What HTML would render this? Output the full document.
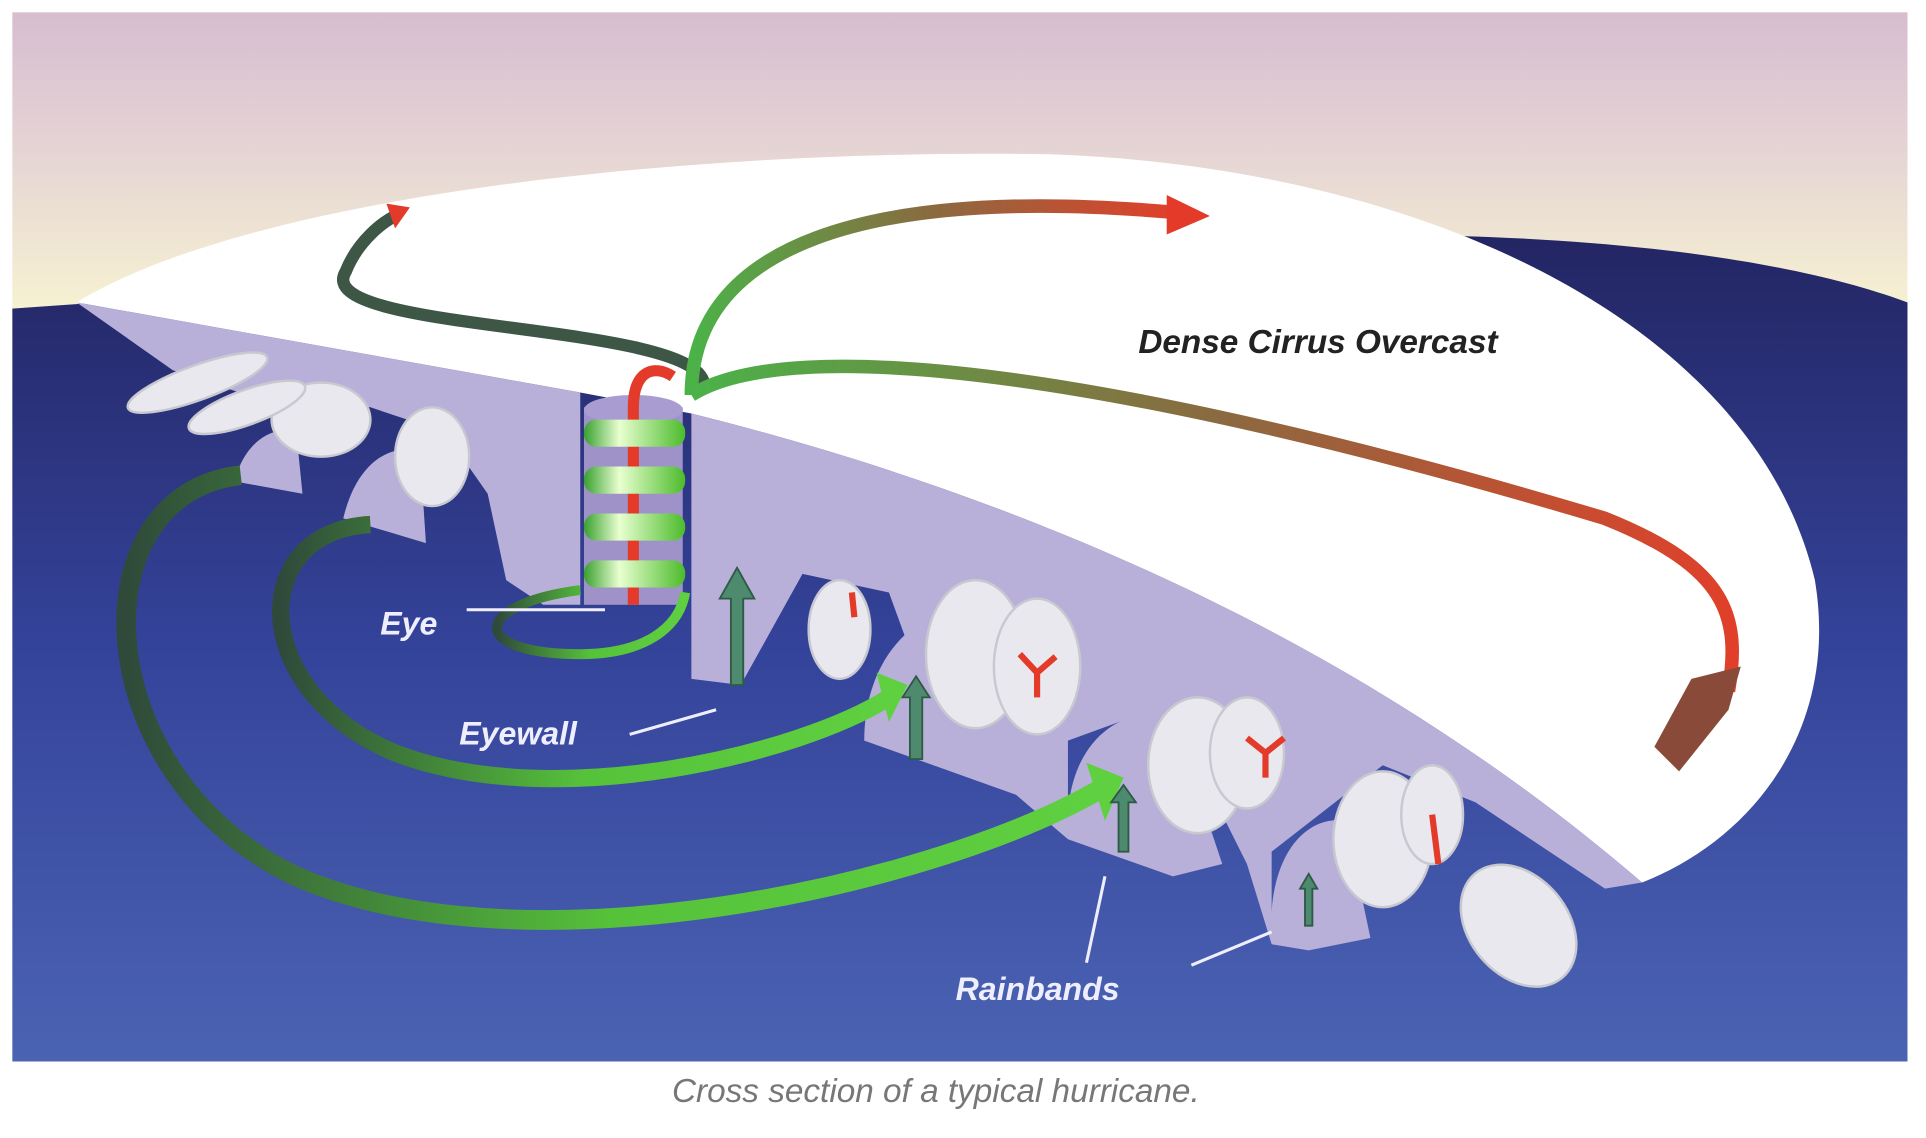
<!DOCTYPE html>
<html><head><style>html,body{margin:0;padding:0;background:#fff;overflow:hidden}svg{display:block}</style></head>
<body>
<svg width="1926" height="1138" viewBox="0 0 1560 922" preserveAspectRatio="none" xmlns="http://www.w3.org/2000/svg">
<defs>
<linearGradient id="sky" x1="0" y1="0" x2="0" y2="1"><stop offset="0" stop-color="#d6bdd0"/><stop offset="0.12" stop-color="#e4d2d4"/><stop offset="0.28" stop-color="#f6f1d2"/><stop offset="1" stop-color="#f6f1d2"/></linearGradient>
<linearGradient id="sea" x1="0" y1="0" x2="0" y2="1"><stop offset="0" stop-color="#232563"/><stop offset="0.5" stop-color="#34439a"/><stop offset="1" stop-color="#4b63b3"/></linearGradient>
<linearGradient id="g1" x1="0" y1="0" x2="1" y2="0"><stop offset="0" stop-color="#2f4a3a"/><stop offset="0.5" stop-color="#56c23a"/><stop offset="1" stop-color="#5fd040"/></linearGradient>
<linearGradient id="gr" x1="0" y1="0" x2="1" y2="0"><stop offset="0" stop-color="#4bb248"/><stop offset="0.5" stop-color="#8a6a40"/><stop offset="1" stop-color="#e0402a"/></linearGradient>
<linearGradient id="coil" x1="0" y1="0" x2="1" y2="0"><stop offset="0" stop-color="#3aa030"/><stop offset="0.35" stop-color="#e8ffd0"/><stop offset="1" stop-color="#4cbb2c"/></linearGradient>
</defs>
<rect x="10" y="10" width="1535" height="850" fill="url(#sky)"/>
<path d="M10,250 C300,230 700,200 1100,190 C1300,190 1450,210 1545,245 L1545,860 L10,860 Z" fill="url(#sea)"/>
<path d="M62,245 C200,160 550,120 850,125 C1150,135 1420,260 1470,470 C1490,590 1420,680 1330,715 C1150,560 900,420 560,335 L470,318 Z" fill="#fff"/>
<path d="M62,245 L470,318 L470,490 L440,490 L410,470 L395,400 L360,350 L300,330 L200,320 L140,300 Z" fill="#b8b0d8"/>
<path d="M560,335 C900,420 1150,560 1330,715 L1300,720 L1195,650 L1120,620 L1030,690 L1030,765 L1010,700 L960,600 L920,580 L865,600 L865,680 L760,590 L720,480 L650,465 L600,555 L560,550 Z" fill="#b8b0d8"/>
<path d="M700,600 C700,520 760,480 800,500 L840,650 L700,600 Z" fill="#b8b0d8"/>
<path d="M865,680 C860,600 910,570 950,580 L990,700 L950,710 Z" fill="#b8b0d8"/>
<path d="M1030,765 C1025,690 1060,660 1090,665 L1110,760 L1060,770 Z" fill="#b8b0d8"/>
<path d="M190,390 C200,350 230,345 240,350 L245,400 Z" fill="#b8b0d8"/>
<path d="M278,420 C290,370 320,360 340,365 L345,440 Z" fill="#b8b0d8"/>
<g fill="#e8e8ee" stroke="#c8c8d0" stroke-width="2">
<ellipse cx="790" cy="530" rx="40" ry="60"/><ellipse cx="840" cy="540" rx="35" ry="55"/>
<ellipse cx="970" cy="620" rx="40" ry="55"/><ellipse cx="1010" cy="610" rx="30" ry="45"/>
<ellipse cx="1120" cy="680" rx="40" ry="55"/><ellipse cx="1160" cy="660" rx="25" ry="40"/>
<ellipse cx="680" cy="510" rx="25" ry="40"/>
<ellipse cx="1230" cy="750" rx="40" ry="55" transform="rotate(-40 1230 750)"/>
<ellipse cx="350" cy="370" rx="30" ry="40"/><ellipse cx="260" cy="340" rx="40" ry="30"/>
<ellipse cx="160" cy="310" rx="60" ry="14" transform="rotate(-20 160 310)"/>
<ellipse cx="200" cy="330" rx="50" ry="14" transform="rotate(-20 200 330)"/>
</g>
<rect x="473" y="330" width="80" height="160" fill="#9e92c8"/>
<ellipse cx="513" cy="332" rx="40" ry="12" fill="#a89cd0"/>
<path d="M513,490 L513,330 C513,300 530,295 545,305" stroke="#e33a2a" stroke-width="9" fill="none"/>
<g fill="url(#coil)">
<rect x="473" y="340" width="82" height="22" rx="10"/><rect x="473" y="378" width="82" height="22" rx="10"/>
<rect x="473" y="416" width="82" height="22" rx="10"/><rect x="473" y="454" width="82" height="22" rx="10"/>
</g>
<path d="M570,310 C560,260 250,270 280,220 C290,195 310,180 320,175" stroke="#3e5646" stroke-width="10" fill="none"/>
<path d="M313,165 L332,168 L320,185 Z" fill="#e33a2a"/>
<path d="M560,320 C560,200 700,150 950,172" stroke="url(#gr)" stroke-width="11" fill="none"/>
<path d="M945,158 L980,175 L945,190 Z" fill="#e33a2a"/>
<path d="M560,320 C640,270 900,300 1300,420 C1400,460 1410,500 1400,560" stroke="url(#gr)" stroke-width="11" fill="none"/>
<path d="M1370,550 L1410,540 L1400,575 L1360,625 L1340,605 Z" fill="#8a4a3a"/>
<path d="M470,478 C380,490 380,530 470,530 C520,530 550,510 555,480" stroke="url(#g1)" stroke-width="8" fill="none"/>
<path d="M300,425 C200,430 200,560 320,610 C450,660 650,610 720,565" stroke="url(#g1)" stroke-width="14" fill="none"/>
<path d="M710,545 L735,555 L720,585 Z" fill="#5fd040"/>
<path d="M195,385 C60,400 70,630 240,710 C420,790 750,720 890,640" stroke="url(#g1)" stroke-width="16" fill="none"/>
<path d="M880,618 L910,630 L895,665 Z" fill="#5fd040"/>
<g fill="#4d8a6e" stroke="#2e5a46" stroke-width="1.5">
<path d="M592,555 L592,485 L583,485 L597,460 L611,485 L602,485 L602,555 Z"/>
<path d="M737,615 L737,565 L731,565 L742,548 L753,565 L747,565 L747,615 Z"/>
<path d="M906,690 L906,650 L900,650 L910,636 L920,650 L914,650 L914,690 Z"/>
<path d="M1057,750 L1057,720 L1053,720 L1060,708 L1067,720 L1063,720 L1063,750 Z"/>
</g>
<g stroke="#e33a2a" stroke-width="5" fill="none">
<path d="M690,480 L692,500 M840,545 L840,565 M826,530 L840,545 L855,532"/>
<path d="M1025,610 L1025,630 M1010,598 L1025,610 L1040,598"/>
<path d="M1160,660 L1165,700"/>
</g>
<g font-family="Liberation Sans, sans-serif" font-style="italic" font-weight="bold">
<text x="922" y="286" font-size="27" fill="#222">Dense Cirrus Overcast</text>
<text x="308" y="514" font-size="26" fill="#eef">Eye</text>
<text x="372" y="603" font-size="26" fill="#eef">Eyewall</text>
<text x="774" y="810" font-size="26" fill="#eef">Rainbands</text>
</g>
<g stroke="#eef" stroke-width="2.5">
<line x1="378" y1="494" x2="490" y2="494"/>
<line x1="510" y1="595" x2="580" y2="575"/>
<line x1="880" y1="780" x2="895" y2="710"/>
<line x1="965" y1="782" x2="1030" y2="755"/>
</g>
<text x="758" y="893" font-family="Liberation Sans, sans-serif" font-style="italic" font-size="27" fill="#777" text-anchor="middle">Cross section of a typical hurricane.</text>
</svg>
</body></html>
